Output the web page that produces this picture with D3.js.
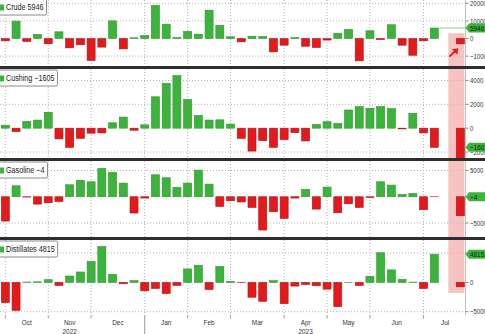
<!DOCTYPE html>
<html><head><meta charset="utf-8">
<script src="https://cdn.jsdelivr.net/npm/d3@7"></script>
<style>
body{margin:0;background:#fff;}
svg{display:block;font-family:'Liberation Sans',Arial,sans-serif;}
</style>
</head><body>
<svg id="chart" width="485" height="334"></svg>
<script>
// ---------- DATA ----------
const weeks = ["2022-10-07","2022-10-14","2022-10-21","2022-10-28",
  "2022-11-04","2022-11-11","2022-11-18","2022-11-25",
  "2022-12-02","2022-12-09","2022-12-16","2022-12-23","2022-12-30",
  "2023-01-06","2023-01-13","2023-01-20","2023-01-27",
  "2023-02-03","2023-02-10","2023-02-17","2023-02-24",
  "2023-03-03","2023-03-10","2023-03-17","2023-03-24","2023-03-31",
  "2023-04-07","2023-04-14","2023-04-21","2023-04-28",
  "2023-05-05","2023-05-12","2023-05-19","2023-05-26",
  "2023-06-02","2023-06-09","2023-06-16","2023-06-23","2023-06-30",
  "2023-07-07","2023-07-14"];
const highlightWeek = "2023-07-31";
const seriesNames = ["Crude","Cushing","Gasoline","Distillates"];

const crude = [-1300,9850,-1700,2270,-3000,3800,-5300,-3600,-12500,-4900,10000,-5900,400,1700,18750,8150,500,4000,2460,16100,7400,950,-1900,1300,1100,-7600,-3800,500,-4400,-5100,-900,2850,5100,-12700,4400,-600,7800,-3800,-9500,-1300,5946];
const cushing = [250,-280,565,680,1330,-900,-1610,-850,-420,-400,450,930,-170,280,2630,3760,4400,2400,1070,680,700,340,-850,-1920,-1045,-1610,-960,-370,-1070,310,540,400,1525,1810,1670,1810,1640,-60,1240,-400,-1605];
const gasoline = [-4630,2090,-60,-1400,-1140,-890,2280,3100,2850,5390,4630,2600,-3100,-250,4180,3610,1775,2600,5070,2410,-1840,-760,-1000,-2030,-6340,-2850,-4120,-250,1400,-2350,1840,-3040,-1330,-2030,-130,2850,2220,440,630,-2470,-4];
const distillates = [-3450,-4770,60,100,460,-520,1090,1780,3565,6100,1380,-230,290,-1440,-1035,-1900,-520,2300,2930,-1210,2700,170,-30,-2530,-3220,290,-3620,-630,-345,-575,-1150,-4140,20,-520,1035,5060,2130,520,50,-1035,4815];
const highlightValues = [-3000,-2900,-3610,-750];

const crudeTicks = [20000,10000,0,-10000];
const cushingTicks = [4000,2000,0,-2000];
const gasolineTicks = [5000,0,-5000];
const distillatesTicks = [5000,0,-5000];

// ---------- LAYOUT ----------
const W = 485, H = 334;
const GREEN = "#3cb43c", GREEN_D = "#2c912c", RED = "#e31a1c", RED_D = "#b51014";
const SX = 0.8;
const panels = [
  {values:crude, ticks:crudeTicks, top:-2, bottom:66, domain:[-15625,23011]},
  {values:cushing, ticks:cushingTicks, top:69, bottom:158, domain:[-2500,4960]},
  {values:gasoline, ticks:gasolineTicks, top:161, bottom:237, domain:[-7667,6810]},
  {values:distillates, ticks:distillatesTicks, top:240, bottom:315, domain:[-5563,7235]}
];
panels.forEach((p,i)=>{ p.name = seriesNames[i]; p.extra = highlightValues[i];
  p.y = d3.scaleLinear().domain(p.domain).range([p.bottom,p.top]); });

const parse = d3.utcParse("%Y-%m-%d");
const dates = weeks.map(parse);
const hDate = parse(highlightWeek);
const x = d3.scaleUtc().domain([dates[0], dates[dates.length-1]]).range([5.33, 434.3]);
const axisX = 465.5;
const barW = 8;

const svg = d3.select("#chart");
svg.append("rect").attr("width",W).attr("height",H).attr("fill","#fff");

function txt(g, xx, yy, s, size, anchor, fill){
  return g.append("text").attr("transform",`translate(${xx},${yy}) scale(${SX},1)`)
    .attr("font-size",size).attr("text-anchor",anchor||"start")
    .attr("dominant-baseline","central").attr("fill",fill||"#333").text(s);
}

const months = d3.groups(dates, d=>d3.utcMonth(d).getTime()).map(([m,ds])=>{
  const month = new Date(m);
  const next = d3.utcFriday.ceil(d3.utcMonth.offset(month,1));
  return {month, first:ds[0], next};
});

const defs = svg.append("defs");
const gGrid = svg.append("g");
const gHi = svg.append("g");
const gBars = svg.append("g");
const gTop = svg.append("g");

panels.forEach((p,i)=>{
  const cid = "clip"+i;
  defs.append("clipPath").attr("id",cid).append("rect")
    .attr("x",0).attr("y",p.top).attr("width",axisX).attr("height",p.bottom-p.top);
  gGrid.append("g").selectAll("line").data(months).join("line")
    .attr("x1",d=>x(d.first)).attr("x2",d=>x(d.first))
    .attr("y1",Math.max(p.top,0)).attr("y2",p.bottom)
    .attr("stroke","#b0b0b0").attr("stroke-dasharray","1,2");
  gGrid.append("g").selectAll("line").data(p.ticks.filter(t=>t!==0)).join("line")
    .attr("x1",0).attr("x2",axisX).attr("y1",d=>p.y(d)).attr("y2",d=>p.y(d))
    .attr("stroke","#b0b0b0").attr("stroke-dasharray","1,2");

  const y0 = p.y(0);
  const bars = p.values.map((v,k)=>({d:dates[k], v})).concat([{d:hDate, v:p.extra}]);
  gBars.append("g").attr("clip-path",`url(#${cid})`)
    .selectAll("rect").data(bars).join("rect")
    .attr("x",d=>x(d.d)-barW/2).attr("width",barW)
    .attr("y",d=>Math.min(p.y(d.v),y0))
    .attr("height",d=>Math.abs(p.y(d.v)-y0))
    .attr("fill",d=>d.v>=0?GREEN:RED)
    .attr("stroke",d=>d.v>=0?GREEN_D:RED_D).attr("stroke-width",0.6);
});

const hx = x(hDate);
gHi.append("rect").attr("x",hx-12).attr("width",16)
  .attr("y",panels[0].y(3000)).attr("height",panels[3].y(-1800)-panels[0].y(3000))
  .attr("fill","#f3aaaa").attr("opacity",0.72);

[[panels[0],panels[1]],[panels[1],panels[2]],[panels[2],panels[3]]].forEach(([a,b])=>{
  gTop.append("rect").attr("x",0).attr("width",W).attr("y",a.bottom).attr("height",b.top-a.bottom)
    .attr("fill","#2e2e2e");
});

panels.forEach((p,i)=>{
  gTop.append("line").attr("x1",axisX).attr("x2",axisX).attr("y1",Math.max(p.top,0)).attr("y2",p.bottom)
    .attr("stroke","#b9c9b9");
  const last = p.values[p.values.length-1];
  const ly = p.y(last);
  p.ticks.forEach(t=>{
    gTop.append("line").attr("x1",axisX).attr("x2",axisX+3).attr("y1",p.y(t)).attr("y2",p.y(t)).attr("stroke","#888");
    if (Math.abs(p.y(t)-ly) > 4)
      txt(gTop, axisX+4.5, p.y(t), d3.format("d")(t), 7.5, "start", "#333");
  });
  if(i===0){
    gTop.append("line").attr("x1",x(dates[dates.length-1])+barW/2).attr("x2",axisX)
      .attr("y1",ly).attr("y2",ly).attr("stroke","#8ccc8c");
  }
  gTop.append("path")
    .attr("d",`M${axisX},${ly} L${axisX+3.5},${ly-4.5} L${W+2},${ly-4.5} L${W+2},${ly+4.5} L${axisX+3.5},${ly+4.5} Z`)
    .attr("fill",GREEN);
  txt(gTop, axisX+4.5, ly+0.3, d3.format("d")(last), 8, "start", "#102010");

  const lg = gTop.append("g");
  const box = lg.append("rect").attr("x",-3).attr("y",p.top+1).attr("height",16)
    .attr("fill","#fff").attr("stroke","#8a8a8a").attr("rx",1.5);
  lg.append("rect").attr("x",-2).attr("y",p.top+6.5).attr("width",6).attr("height",6).attr("fill",GREEN);
  const t = txt(lg, 6, p.top+9.5, `${p.name}  ${d3.format("d")(last)}`, 9, "start", "#222");
  const wdt = t.node().getComputedTextLength()*SX;
  box.attr("width", 6+wdt+6);
});

const ay1 = panels[0].y(-10300), ay2 = panels[0].y(-5600);
const ax1 = hx-11, ax2 = hx-2;
gTop.append("line").attr("x1",ax1).attr("y1",ay1).attr("x2",ax2-2).attr("y2",ay2+2)
  .attr("stroke","#e0201e").attr("stroke-width",2);
gTop.append("path").attr("d",`M${ax2},${ay2} L${ax2-6.5},${ay2+1} L${ax2-1},${ay2+6.5} Z`).attr("fill","#e0201e");

const axisY = panels[3].bottom;
const gx = svg.append("g");
months.forEach(m=>{
  const xx = x(m.first);
  const isJan = m.month.getUTCMonth()===0;
  gx.append("line").attr("x1",xx).attr("x2",xx).attr("y1",axisY).attr("y2",isJan?H:axisY+3.5)
    .attr("stroke","#9a9a9a");
  txt(gx, (x(m.first)+x(m.next))/2, axisY+7.5, d3.utcFormat("%b")(m.month), 8, "middle", "#333");
});
d3.groups(months, m=>m.month.getUTCFullYear()).forEach(([yr, ms])=>{
  const m = ms[Math.floor(ms.length/2)];
  txt(gx, (x(m.first)+x(m.next))/2, axisY+16, String(yr), 8, "middle", "#333");
});
</script>
</body></html>
